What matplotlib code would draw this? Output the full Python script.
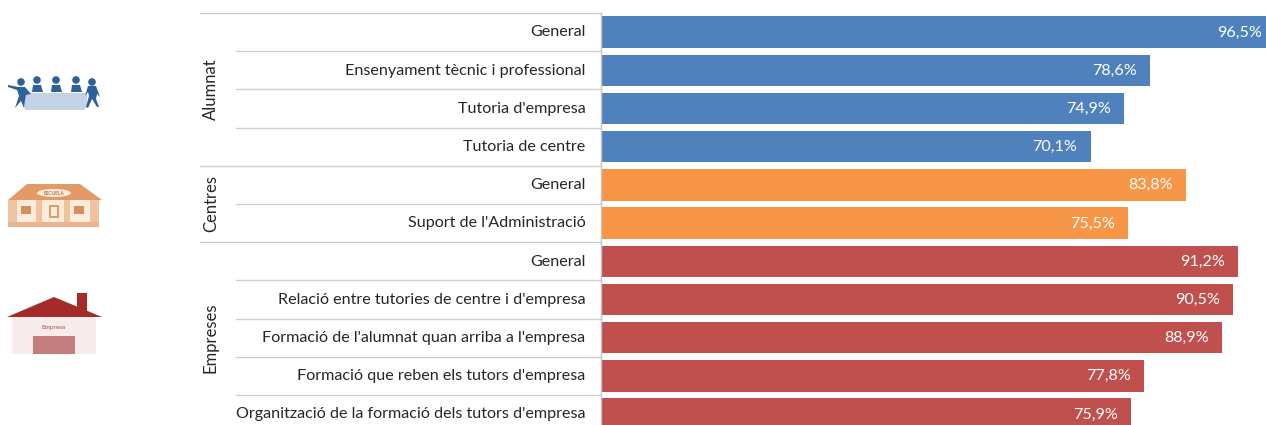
import matplotlib
matplotlib.use("Agg")
import matplotlib.pyplot as plt
from matplotlib.patches import Polygon, Circle, Rectangle, Ellipse

plt.rcParams['font.family'] = ['Lato', 'DejaVu Sans']

labels_alumnat = ["General", "Ensenyament tècnic i professional", "Tutoria d'empresa", "Tutoria de centre"]
values_alumnat = [96.5, 78.6, 74.9, 70.1]
labels_centres = ["General", "Suport de l'Administració"]
values_centres = [83.8, 75.5]
labels_empreses = ["General", "Relació entre tutories de centre i d'empresa",
                   "Formació de l'alumnat quan arriba a l'empresa",
                   "Formació que reben els tutors d'empresa",
                   "Organització de la formació dels tutors d'empresa"]
values_empreses = [91.2, 90.5, 88.9, 77.8, 75.9]
groups = ["Alumnat", "Centres", "Empreses"]
colors = ["#4F81BD", "#F79646", "#C0504D"]

W, H = 1266, 425
fig = plt.figure(figsize=(W / 100, H / 100), dpi=100, facecolor="white")

# Axes: x from px 601 to 1266, y from px 13 to 425
ax = fig.add_axes([601 / W, 0, 665 / W, (H - 13) / H])
PITCH = 38.2
PX_PER_UNIT = 6.985
ax.set_xlim(0, 665 / PX_PER_UNIT)
ax.set_ylim((H - 13) / PITCH, 0)
ax.axis("off")

label_color = "#262626"
line_color = "#CFCFCF"
fs = 11.6


def xpx(px):
    return (px - 601) / 665


row = 0
for name, labs, vals, col in zip(groups,
                                 [labels_alumnat, labels_centres, labels_empreses],
                                 [values_alumnat, values_centres, values_empreses],
                                 colors):
    start = row
    for i, (lab, val) in enumerate(zip(labs, vals)):
        y = row + 0.5
        ax.barh(y, val, height=0.82, color=col, linewidth=0, zorder=2)
        ax.annotate(f"{val:.1f}%".replace(".", ","), (val, y + 0.01), xytext=(-9.6, 0),
                    textcoords="offset points", ha="right", va="center",
                    color="white", fontsize=fs, annotation_clip=False, clip_on=True, zorder=3)
        ax.text(xpx(585.5), y + 0.01, lab, transform=ax.get_yaxis_transform(), ha="right",
                va="center", color=label_color, fontsize=fs, clip_on=False)
        ax.plot([xpx(200) if i == 0 else xpx(236), 0], [row, row], color=line_color, lw=1.0,
                transform=ax.get_yaxis_transform(), clip_on=False, zorder=1)
        row += 1
    ax.text(xpx(211), (start + row) / 2, name, transform=ax.get_yaxis_transform(), rotation=90,
            ha="center", va="center", color=label_color, fontsize=fs + 0.4, clip_on=False)
ax.plot([0, 0], [0, 1], color="#C4C4C4", lw=1.0, transform=ax.transAxes, clip_on=False, zorder=4)

# Decorative icons in a pixel-space overlay
ic = fig.add_axes([0, 0, 1, 1], facecolor="none")
ic.set_xlim(0, W)
ic.set_ylim(H, 0)
ic.axis("off")


def poly(points, color, z=2):
    ic.add_patch(Polygon(points, closed=True, facecolor=color, edgecolor="none", zorder=z))


def rect(x0, y0, x1, y1, color, z=2):
    ic.add_patch(Rectangle((x0, y0), x1 - x0, y1 - y0, facecolor=color, edgecolor="none", zorder=z))


# People around a table
blue = "#2F6099"
poly([(24, 93), (87, 93), (87, 106), (84, 110), (26, 110), (23, 106)], "#C5D3E6", 1)
for cx, cy in [(37, 80), (56, 80), (76, 80)]:
    ic.add_patch(Circle((cx, cy), 3.1, color=blue, zorder=3))
    poly([(cx - 5, 92), (cx - 4, 85), (cx + 4, 85), (cx + 6, 92)], blue, 3)
ic.add_patch(Circle((21, 82), 3.1, color=blue, zorder=3))
poly([(8, 85), (18, 87), (25, 87), (31, 94), (26, 95), (25, 100), (24, 108), (21, 101),
      (15, 108), (19, 96), (17, 90), (8, 87)], blue, 3)
ic.add_patch(Circle((92, 82), 3.1, color=blue, zorder=3))
poly([(88, 86), (96, 86), (100, 97), (97, 94), (96, 99), (99, 107), (97, 107), (92, 99),
      (88, 108), (86, 107), (89, 96), (88, 92), (85, 96)], blue, 3)

# School
roof = "#E29B66"
rect(11, 200, 98, 222, "#FBEBDD", 1)
poly([(27, 184), (80, 184), (102, 200), (8, 200)], roof)
rect(8, 222, 99, 227, "#EBB48C")
for x0, x1 in [(8, 17), (36, 42), (64, 70), (90, 99)]:
    rect(x0, 200, x1, 222, "#F0C3A0")
ic.add_patch(Ellipse((54, 193), 34, 8, angle=0, facecolor="#FBEBDD", edgecolor="none", zorder=3))
ic.text(54, 193, "ESCUELA", ha="center", va="center", fontsize=3.5, color="#B8743F",
        fontweight="bold", zorder=4)
rect(21, 206, 31, 214, "#D68F5C")
rect(74, 206, 84, 214, "#D68F5C")
rect(49, 205, 59, 218, "#E29B66")
rect(51, 207, 57, 216, "#FBEBDD", 3)

# Company building
dark = "#A52A2A"
rect(12, 317, 96, 354, "#F6ECEC", 1)
rect(33, 336, 75, 354, "#C47C7C")
rect(77, 293, 87, 312, dark)
poly([(7, 317), (54, 297), (102, 317)], dark, 3)
ic.text(54, 328, "Empresa", ha="center", va="center", fontsize=4.6, color="#C07070", fontweight="bold")

fig.savefig("out.png", dpi=100, facecolor="white")
